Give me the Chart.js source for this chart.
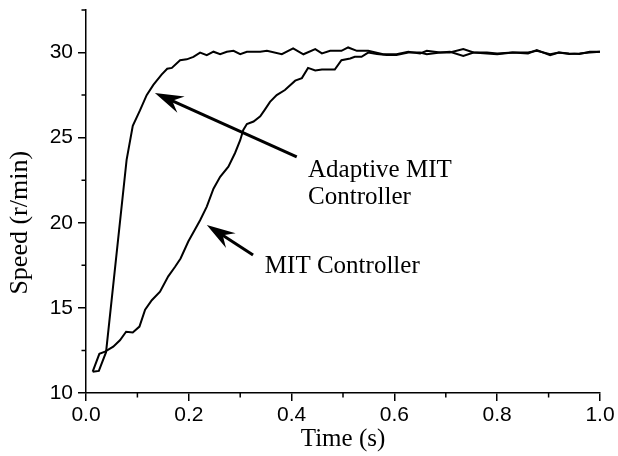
<!DOCTYPE html>
<html>
<head>
<meta charset="utf-8">
<script src="https://cdn.jsdelivr.net/npm/chart.js@4.4.1/dist/chart.umd.min.js"></script>
<style>
  html, body { margin: 0; padding: 0; background: #fff; }
  #speed-chart { display: block; }
</style>
</head>
<body>
<canvas id="speed-chart" width="618" height="456"></canvas>
<script>
// Adaptive MIT controller response
const adaptiveTime = [0.013, 0.025, 0.039, 0.079, 0.091, 0.105, 0.118, 0.131, 0.147, 0.158, 0.167, 0.183, 0.196, 0.209, 0.222, 0.235, 0.248, 0.261, 0.274, 0.287, 0.300, 0.313, 0.339, 0.352, 0.381, 0.403, 0.423, 0.446, 0.459, 0.475, 0.497, 0.510, 0.527, 0.549, 0.578, 0.604, 0.627, 0.650, 0.663, 0.689, 0.708, 0.734, 0.754, 0.780, 0.800, 0.830, 0.860, 0.877, 0.903, 0.920, 0.940, 0.960, 0.980, 1.000];
const adaptiveSpeed = [11.25, 11.3, 12.4, 23.7, 25.7, 26.6, 27.5, 28.1, 28.7, 29.05, 29.1, 29.55, 29.6, 29.75, 30.0, 29.85, 30.05, 29.9, 30.05, 30.1, 29.9, 30.05, 30.05, 30.1, 29.9, 30.25, 29.9, 30.2, 29.95, 30.1, 30.1, 30.3, 30.1, 30.1, 29.9, 29.9, 30.05, 29.95, 30.1, 30.0, 30.0, 30.2, 30.0, 29.95, 29.9, 30.0, 29.95, 30.15, 29.85, 30.0, 29.95, 29.92, 30.05, 30.05];

// MIT controller response
const mitTime = [0.013, 0.026, 0.037, 0.053, 0.066, 0.078, 0.091, 0.104, 0.115, 0.128, 0.144, 0.160, 0.173, 0.184, 0.199, 0.212, 0.222, 0.235, 0.248, 0.261, 0.277, 0.290, 0.300, 0.306, 0.313, 0.326, 0.339, 0.348, 0.358, 0.371, 0.387, 0.407, 0.420, 0.432, 0.446, 0.459, 0.484, 0.497, 0.514, 0.523, 0.536, 0.549, 0.566, 0.585, 0.604, 0.627, 0.650, 0.663, 0.689, 0.708, 0.734, 0.754, 0.780, 0.800, 0.830, 0.860, 0.877, 0.903, 0.920, 0.940, 0.960, 0.980, 1.000];
const mitSpeed = [11.25, 12.3, 12.43, 12.72, 13.1, 13.6, 13.55, 13.9, 14.9, 15.45, 15.95, 16.85, 17.4, 17.9, 18.9, 19.6, 20.15, 20.95, 22.0, 22.7, 23.3, 24.1, 24.85, 25.45, 25.8, 25.95, 26.25, 26.65, 27.1, 27.5, 27.8, 28.35, 28.5, 29.1, 28.95, 29.0, 29.0, 29.55, 29.65, 29.75, 29.75, 30.0, 29.92, 29.85, 29.85, 30.0, 30.0, 29.9, 30.0, 30.05, 29.8, 30.0, 30.0, 29.95, 30.0, 30.0, 30.1, 29.9, 30.0, 29.92, 29.95, 30.0, 30.05];

// minor tick positions (unlabelled)
const xMinorTicks = [0.1, 0.3, 0.5, 0.7, 0.9];
const yMinorTicks = [12.5, 17.5, 22.5, 27.5, 32.5];

// arrow callouts, in data units: [tipTime, tipSpeed, tailTime, tailSpeed]
const calloutArrows = [
  [0.134, 27.63, 0.410, 23.87],
  [0.235, 19.87, 0.325, 18.11]
];
// callout text, in data units: [text, time, speed]
const calloutLabels = [
  ["Adaptive MIT", 0.432, 22.7],
  ["Controller", 0.432, 21.1],
  ["MIT Controller", 0.348, 17.07]
];

const yTitle = "Speed (r/min)";
const yTitleCenter = 20.0; // speed value the rotated title is centred on

const serif = "'Liberation Serif', 'Times New Roman', serif";
const sans = "'Liberation Sans', Arial, sans-serif";

const toPoints = (xs, ys) => xs.map((x, i) => ({ x: x, y: ys[i] }));

// minor ticks + arrows + labels + y title
const extrasPlugin = {
  id: "extras",
  afterDraw(chart) {
    const ctx = chart.ctx;
    const xs = chart.scales.x;
    const ys = chart.scales.y;
    const area = chart.chartArea;

    ctx.save();
    ctx.strokeStyle = "#000";
    ctx.lineWidth = 1.5;
    ctx.beginPath();
    xMinorTicks.forEach(v => {
      const px = xs.getPixelForValue(v);
      ctx.moveTo(px, area.bottom);
      ctx.lineTo(px, area.bottom + 4.5);
    });
    yMinorTicks.forEach(v => {
      const py = ys.getPixelForValue(v);
      ctx.moveTo(area.left, py);
      ctx.lineTo(area.left - 4.5, py);
    });
    ctx.stroke();

    // arrows
    calloutArrows.forEach(a => {
      const tx = xs.getPixelForValue(a[0]);
      const ty = ys.getPixelForValue(a[1]);
      const sx = xs.getPixelForValue(a[2]);
      const sy = ys.getPixelForValue(a[3]);
      const ang = Math.atan2(sy - ty, sx - tx);
      const headLen = 30;
      const spread = 0.3;
      ctx.lineWidth = 3;
      ctx.beginPath();
      ctx.moveTo(sx, sy);
      ctx.lineTo(tx + Math.cos(ang) * 18, ty + Math.sin(ang) * 18);
      ctx.stroke();
      ctx.fillStyle = "#000";
      ctx.beginPath();
      ctx.moveTo(tx, ty);
      ctx.lineTo(tx + Math.cos(ang + spread) * headLen, ty + Math.sin(ang + spread) * headLen);
      ctx.lineTo(tx + Math.cos(ang) * 19, ty + Math.sin(ang) * 19);
      ctx.lineTo(tx + Math.cos(ang - spread) * headLen, ty + Math.sin(ang - spread) * headLen);
      ctx.closePath();
      ctx.fill();
    });

    ctx.fillStyle = "#000";
    ctx.font = "25px " + serif;
    ctx.textAlign = "left";
    ctx.textBaseline = "alphabetic";
    calloutLabels.forEach(l => {
      ctx.fillText(l[0], xs.getPixelForValue(l[1]), ys.getPixelForValue(l[2]));
    });

    // rotated y axis title
    ctx.translate(20, ys.getPixelForValue(yTitleCenter));
    ctx.rotate(-Math.PI / 2);
    ctx.font = "26px " + serif;
    ctx.textAlign = "center";
    ctx.textBaseline = "middle";
    ctx.fillText(yTitle, 0, 0);
    ctx.restore();
  }
};

const ctx = document.getElementById("speed-chart");

new Chart(ctx, {
  type: "line",
  data: {
    datasets: [
      {
        label: "Adaptive MIT Controller",
        data: toPoints(adaptiveTime, adaptiveSpeed),
        borderColor: "#000",
        borderWidth: 2,
        pointRadius: 0,
        fill: false,
        tension: 0
      },
      {
        label: "MIT Controller",
        data: toPoints(mitTime, mitSpeed),
        borderColor: "#000",
        borderWidth: 2,
        pointRadius: 0,
        fill: false,
        tension: 0
      }
    ]
  },
  options: {
    responsive: false,
    animation: false,
    layout: { padding: { top: 10, right: 18, left: 0, bottom: 0 } },
    plugins: {
      legend: { display: false },
      tooltip: { enabled: false }
    },
    scales: {
      x: {
        type: "linear",
        min: 0,
        max: 1,
        border: { display: true, color: "#000", width: 1.5 },
        grid: { drawOnChartArea: false, drawTicks: true, tickLength: 8, color: "#000", lineWidth: 1.5 },
        ticks: {
          stepSize: 0.2,
          color: "#000",
          padding: 2,
          maxRotation: 0,
          font: { family: sans, size: 21 },
          callback: v => v.toFixed(1)
        },
        title: {
          display: true,
          text: "Time (s)",
          color: "#000",
          padding: { top: 0, bottom: 2 },
          font: { family: serif, size: 25 }
        },
        afterFit: scale => {
          scale.height = 63;
          scale.paddingRight = 0;
        }
      },
      y: {
        min: 10,
        max: 32.5,
        border: { display: true, color: "#000", width: 1.5 },
        grid: { drawOnChartArea: false, drawTicks: true, tickLength: 8, color: "#000", lineWidth: 1.5 },
        ticks: {
          stepSize: 5,
          includeBounds: false,
          color: "#000",
          padding: 5,
          font: { family: sans, size: 21 }
        },
        afterFit: scale => {
          scale.width = 86;
          scale.paddingTop = 0;
          scale.paddingBottom = 0;
        }
      }
    }
  },
  plugins: [extrasPlugin]
});
</script>
</body>
</html>
